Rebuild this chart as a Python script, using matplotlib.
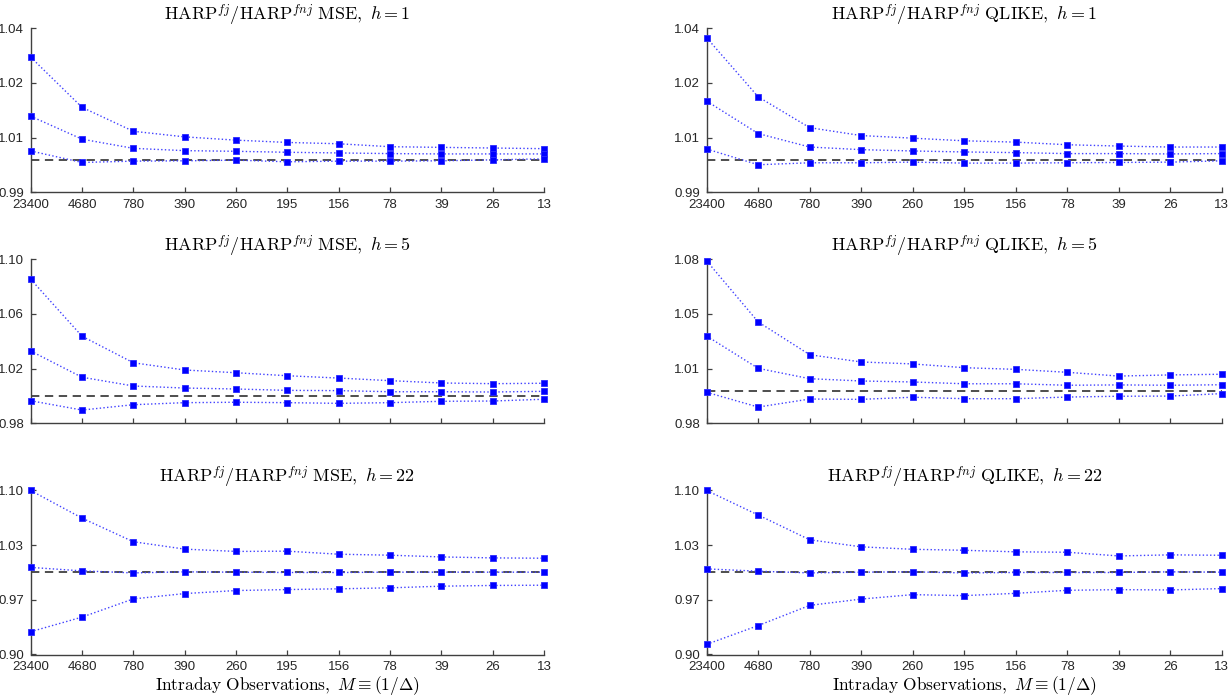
import numpy as np
import matplotlib
matplotlib.use("Agg")
import matplotlib.pyplot as plt

plt.rcParams['mathtext.fontset'] = 'cm'
plt.rcParams['font.family'] = ['Liberation Sans', 'DejaVu Sans']
plt.rcParams['lines.scale_dashes'] = False

# ---- data ----
x_labels = ['23400', '4680', '780', '390', '260', '195', '156', '78', '39', '26', '13']

mse_h1_upper = [1.0312, 1.0159, 1.0086, 1.0069, 1.0059, 1.0052, 1.0048, 1.0039, 1.0037, 1.0035, 1.0033]
mse_h1_mid   = [1.0132, 1.0062, 1.0034, 1.0027, 1.0025, 1.0022, 1.0020, 1.0018, 1.0017, 1.0017, 1.0017]
mse_h1_lower = [1.0026, 0.9991, 0.9995, 0.9996, 0.9998, 0.9993, 0.9995, 0.9995, 0.9996, 0.9999, 1.0002]

qlike_h1_upper = [1.0371, 1.0191, 1.0097, 1.0073, 1.0065, 1.0057, 1.0053, 1.0045, 1.0041, 1.0038, 1.0038]
qlike_h1_mid   = [1.0178, 1.0079, 1.0038, 1.0030, 1.0026, 1.0023, 1.0021, 1.0018, 1.0018, 1.0017, 1.0018]
qlike_h1_lower = [1.0032, 0.9984, 0.9990, 0.9990, 0.9992, 0.9989, 0.9989, 0.9990, 0.9991, 0.9992, 0.9996]

mse_h5_upper = [1.0854, 1.0437, 1.0243, 1.0190, 1.0170, 1.0148, 1.0131, 1.0112, 1.0095, 1.0090, 1.0093]
mse_h5_mid   = [1.0329, 1.0137, 1.0073, 1.0058, 1.0051, 1.0041, 1.0039, 1.0031, 1.0031, 1.0029, 1.0034]
mse_h5_lower = [0.9965, 0.9897, 0.9936, 0.9951, 0.9954, 0.9951, 0.9946, 0.9951, 0.9961, 0.9963, 0.9976]

qlike_h5_upper = [1.0790, 1.0418, 1.0218, 1.0174, 1.0162, 1.0139, 1.0129, 1.0111, 1.0088, 1.0095, 1.0099]
qlike_h5_mid   = [1.0332, 1.0135, 1.0072, 1.0058, 1.0052, 1.0041, 1.0041, 1.0032, 1.0034, 1.0032, 1.0035]
qlike_h5_lower = [0.9989, 0.9899, 0.9948, 0.9946, 0.9959, 0.9950, 0.9950, 0.9960, 0.9965, 0.9966, 0.9981]

mse_h22_upper = [1.1000, 1.0663, 1.0375, 1.0285, 1.0257, 1.0260, 1.0223, 1.0211, 1.0190, 1.0178, 1.0174]
mse_h22_mid   = [1.0062, 1.0020, 0.9995, 1.0008, 1.0004, 1.0000, 1.0000, 1.0004, 1.0004, 1.0004, 1.0004]
mse_h22_lower = [0.9278, 0.9456, 0.9678, 0.9743, 0.9780, 0.9792, 0.9801, 0.9813, 0.9833, 0.9842, 0.9845]

qlike_h22_upper = [1.1000, 1.0701, 1.0399, 1.0313, 1.0283, 1.0271, 1.0252, 1.0247, 1.0202, 1.0215, 1.0210]
qlike_h22_mid   = [1.0044, 1.0016, 0.9995, 1.0004, 1.0008, 0.9995, 1.0000, 1.0000, 1.0000, 1.0008, 1.0004]
qlike_h22_lower = [0.9124, 0.9353, 0.9599, 0.9676, 0.9730, 0.9718, 0.9746, 0.9783, 0.9791, 0.9787, 0.9804]

panels = [
    # (row, col, loss, h, series, ylim)
    (0, 0, 'MSE', 1, [mse_h1_upper, mse_h1_mid, mse_h1_lower], (0.99, 1.04)),
    (0, 1, 'QLIKE', 1, [qlike_h1_upper, qlike_h1_mid, qlike_h1_lower], (0.99, 1.04)),
    (1, 0, 'MSE', 5, [mse_h5_upper, mse_h5_mid, mse_h5_lower], (0.98, 1.10)),
    (1, 1, 'QLIKE', 5, [qlike_h5_upper, qlike_h5_mid, qlike_h5_lower], (0.98, 1.08)),
    (2, 0, 'MSE', 22, [mse_h22_upper, mse_h22_mid, mse_h22_lower], (0.90, 1.10)),
    (2, 1, 'QLIKE', 22, [qlike_h22_upper, qlike_h22_mid, qlike_h22_lower], (0.90, 1.10)),
]

W, H = 1231, 697
fig = plt.figure(figsize=(W / 100, H / 100), dpi=100)

col_x = [30.7, 706.7]
col_w = [513.3, 515.0]
row_top = [28.3, 259.3, 490.5]
ax_h = 164.0

xs = np.arange(1, len(x_labels) + 1)
axis_col = '0.25'

for row, col, loss, h, series, (lo, hi) in panels:
    left = col_x[col] / W
    bottom = 1 - (row_top[row] + ax_h) / H
    ax = fig.add_axes([left, bottom, col_w[col] / W, ax_h / H])

    ax.axhline(1.0, color='0.25', lw=1.3, linestyle=(0, (6, 4)), zorder=2)
    for s in series:
        ax.plot(xs, s, linestyle=':', color=(0.25, 0.25, 1.0), lw=1.0, zorder=3, clip_on=False)
        ax.plot(xs, s, linestyle='none', marker='s', markersize=4.6,
                mfc='#0000ff', mec='#2a2aff', mew=0.6, zorder=4, clip_on=False)

    ax.set_xlim(1, len(x_labels))
    ax.set_ylim(lo, hi)
    yt = np.linspace(lo, hi, 4)
    ax.set_yticks(yt)
    ax.set_yticklabels(['%.2f' % v for v in yt])
    ax.set_xticks(xs)
    if row == 1:
        ax.set_xticklabels([])
    else:
        ax.set_xticklabels(x_labels)

    for sp in ['top', 'right']:
        ax.spines[sp].set_visible(False)
    for sp in ['left', 'bottom']:
        ax.spines[sp].set_color(axis_col)
        ax.spines[sp].set_linewidth(1.0)
    ax.tick_params(direction='in', length=3.5, width=0.9, color=axis_col,
                   labelsize=9.5, labelcolor='0.15')
    ax.tick_params(axis='y', pad=5)
    ax.tick_params(axis='x', pad=4.5)

    ax.set_title(r'$\mathrm{HARP}^{fj}/\mathrm{HARP}^{fnj}\ \mathrm{%s},\ h=%d$' % (loss, h),
                 fontsize=13, pad=5, color='black')
    if row == 2:
        ax.set_xlabel(r'$\mathrm{Intraday\ Observations,}\ M\equiv(1/\Delta)$',
                      fontsize=12.5, labelpad=1)

fig.savefig('out.png', dpi=100)
